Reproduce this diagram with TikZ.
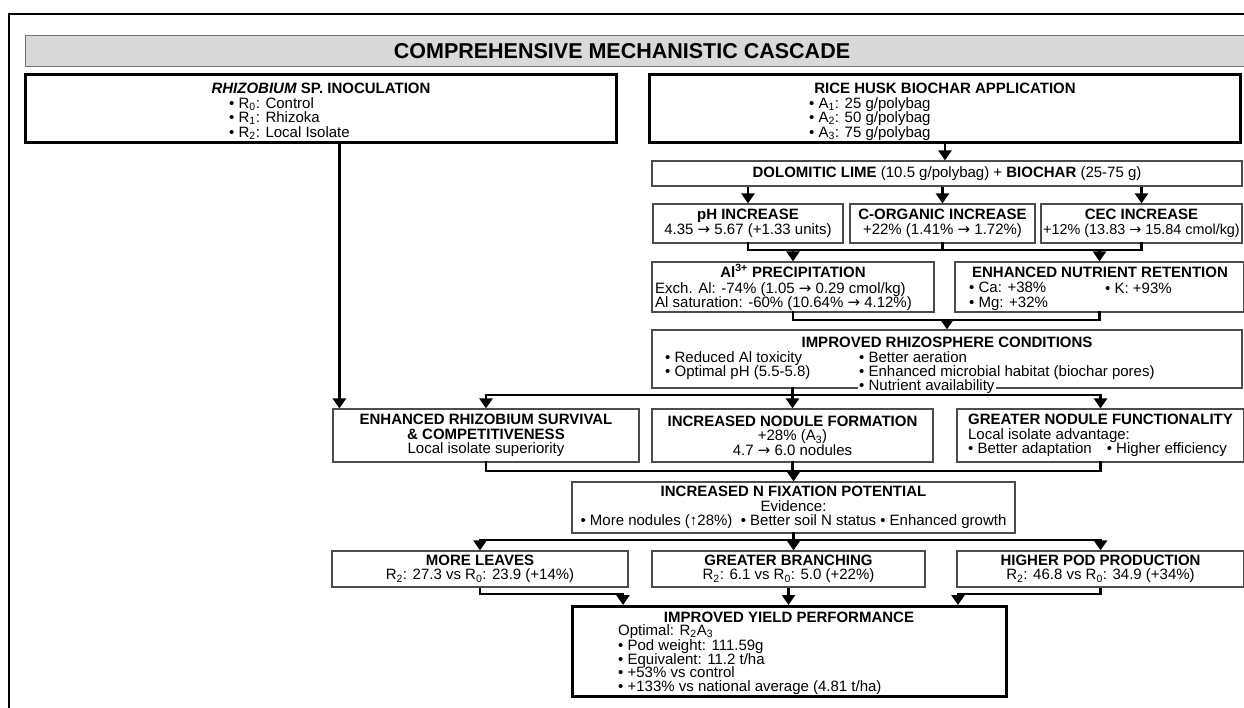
\documentclass[tikz,border=0pt]{standalone}
\usepackage{fontspec}
\setmainfont{Liberation Sans}
\newfontfamily\symfont{DejaVu Sans}
\newcommand{\toarr}{{\symfont →}}
\usetikzlibrary{arrows.meta}
\lineskiplimit=-100pt

\begin{document}
\begin{tikzpicture}[x=1pt, y=-1pt,
        txt/.style={inner sep=0pt, align=center, font=\fontsize{15}{14.5}\selectfont},
        box/.style={txt, draw=black!70, line width=1.2pt},
        bigbox/.style={draw, line width=3pt, inner sep=0pt},
        conn/.style={line width=2.6pt, line cap=rect},
        arr/.style={line width=2.6pt, -{Triangle[width=13pt, length=10pt]}}]
    \useasboundingbox (0,0) rectangle (1244,707);
    \clip (0,0) rectangle (1244,707);
    \draw[line width=2pt] (9,14) rectangle (1270,730);
    \draw[fill=black!15, draw=black!55] (25,35) rectangle (1270,66);
    \node[txt, font=\fontsize{21.5}{21.5}\selectfont\bfseries] (ttl) at (622,51) {COMPREHENSIVE MECHANISTIC CASCADE};

    % treatments
    \node[bigbox, minimum width=591pt, minimum height=68pt] (rhz) at (320.5,108.5) {};
    \node[txt, anchor=base] (rhzh) at (321,93) {\textbf{\textit{RHIZOBIUM} SP. INOCULATION}};
    \node[txt, align=left, anchor=north west] (rhzl) at (229,97) {• R\textsubscript{0}: Control\\• R\textsubscript{1}: Rhizoka\\• R\textsubscript{2}: Local Isolate};
    \node[bigbox, minimum width=591pt, minimum height=68pt] (rhb) at (945,108.5) {};
    \node[txt, anchor=base] (rhbh) at (945,93) {\textbf{RICE HUSK BIOCHAR APPLICATION}};
    \node[txt, align=left, anchor=north west] (rhbl) at (809,97) {• A\textsubscript{1}: 25 g/polybag\\• A\textsubscript{2}: 50 g/polybag\\• A\textsubscript{3}: 75 g/polybag};

    % soil changes
    \node[box, minimum width=590pt, minimum height=25pt] (dol) at (947,173.5) {\textbf{DOLOMITIC LIME} (10.5 g/polybag) + \textbf{BIOCHAR} (25-75 g)};
    \node[box, minimum width=190pt, minimum height=39pt] (ph) at (748,223.5) {\textbf{pH INCREASE}\\4.35 \toarr{} 5.67 (+1.33 units)};
    \node[box, minimum width=185pt, minimum height=39pt] (corg) at (942.5,223.5) {\textbf{C-ORGANIC INCREASE}\\+22\% (1.41\% \toarr{} 1.72\%)};
    \node[box, minimum width=201pt, minimum height=39pt] (cec) at (1141.5,223.5) {\textbf{CEC INCREASE}\\{\fontsize{14.4}{14.5}\selectfont +12\% (13.83 \toarr{} 15.84 cmol/kg)}};
    \node[box, minimum width=282pt, minimum height=50pt] (al) at (793,287) {};
    \node[txt, anchor=base] (alh) at (793,277) {\textbf{Al\textsuperscript{3+} PRECIPITATION}};
    \node[txt, align=left, anchor=north west] (all) at (655,282) {Exch. Al: -74\% (1.05 \toarr{} 0.29 cmol/kg)\\Al saturation: -60\% (10.64\% \toarr{} 4.12\%)};
    \node[box, minimum width=289pt, minimum height=50pt] (nut) at (1099.5,287) {};
    \node[txt, anchor=base] (nuth) at (1100,277) {\textbf{ENHANCED NUTRIENT RETENTION}};
    \node[txt, align=left, anchor=north west] (nutl) at (969,282) {• Ca: +38\%\\• Mg: +32\%};
    \node[txt, anchor=base west] (nutk) at (1105,293) {• K: +93\%};
    \node[box, minimum width=590pt, minimum height=58pt] (rhs) at (947,359) {};
    \node[txt, anchor=base] (rhsh) at (947,347) {\textbf{IMPROVED RHIZOSPHERE CONDITIONS}};
    \node[txt, align=left, anchor=north west] (rhsl) at (665,351) {• Reduced Al toxicity\\• Optimal pH (5.5-5.8)};
    \node[txt, align=left, anchor=north west] (rhsr) at (859,351) {• Better aeration\\• Enhanced microbial habitat (biochar pores)};
    \node[txt, anchor=base west, fill=white, inner sep=1.5pt] (rhsn) at (857.5,390) {• Nutrient availability};

    % nodulation
    \node[box, minimum width=306pt, minimum height=53pt] (enh) at (486,435.5) {\textbf{ENHANCED RHIZOBIUM SURVIVAL}\\\textbf{\& COMPETITIVENESS}\\Local isolate superiority};
    \node[box, minimum width=281pt, minimum height=53pt] (nf) at (792.5,435.5) {\textbf{INCREASED NODULE FORMATION}\\+28\% (A\textsubscript{3})\\4.7 \toarr{} 6.0 nodules};
    \node[box, align=left, minimum width=287pt, minimum height=53pt] (gnf) at (1100.5,435.5) {\textbf{GREATER NODULE FUNCTIONALITY}\\Local isolate advantage:\\• Better adaptation\quad• Higher efficiency};
    \node[box, minimum width=443pt, minimum height=51pt] (nfx) at (793.5,507.5) {\textbf{INCREASED N FIXATION POTENTIAL}\\Evidence:\\• More nodules (↑28\%)~ • Better soil N status • Enhanced growth};

    % growth and yield
    \node[box, minimum width=296pt, minimum height=36pt] (ml) at (480,569) {\textbf{MORE LEAVES}\\R\textsubscript{2}: 27.3 vs R\textsubscript{0}: 23.9 (+14\%)};
    \node[box, minimum width=273pt, minimum height=36pt] (gb) at (788.5,569) {\textbf{GREATER BRANCHING}\\R\textsubscript{2}: 6.1 vs R\textsubscript{0}: 5.0 (+22\%)};
    \node[box, minimum width=287pt, minimum height=36pt] (hpp) at (1100.5,569) {\textbf{HIGHER POD PRODUCTION}\\R\textsubscript{2}: 46.8 vs R\textsubscript{0}: 34.9 (+34\%)};
    \node[bigbox, minimum width=434pt, minimum height=90pt] (yld) at (789.5,651.5) {};
    \node[txt, anchor=base] (yldh) at (789,622) {\textbf{IMPROVED YIELD PERFORMANCE}};
    \node[txt, align=left, anchor=north west, font=\fontsize{15}{13.5}\selectfont] (yldl) at (618,624.5) {Optimal: R\textsubscript{2}A\textsubscript{3}\\[1.5pt]• Pod weight: 111.59g\\• Equivalent: 11.2 t/ha\\• +53\% vs control\\• +133\% vs national average (4.81 t/ha)};

    % connectors
    \coordinate (lv1) at (0,250);
    \coordinate (lv2) at (0,320);
    \coordinate (lv3) at (0,395);
    \coordinate (lv4) at (0,471);
    \coordinate (lv5) at (0,540);
    \coordinate (lv6) at (0,594);
    \coordinate (rin) at ([xshift=7pt]enh.north west);
    \coordinate (yin) at ([xshift=52pt]yld.north west);
    \coordinate (yout) at ([xshift=-50pt]yld.north east);
    \draw[arr] (rin |- rhz.south) -- (rin);
    \draw[arr] (rhb.south) -- (rhb.south |- dol.north);
    \draw[arr] (dol.south -| ph.north) -- (ph.north);
    \draw[arr] (dol.south -| corg.north) -- (corg.north);
    \draw[arr] (dol.south -| cec.north) -- (cec.north);
    \draw[conn] (ph.south) -- (ph.south |- lv1) -- (cec.south |- lv1) -- (cec.south);
    \draw[conn] (corg.south) -- (corg.south |- lv1);
    \draw[arr] (al.north |- lv1) -- (al.north);
    \draw[arr] (nut.north |- lv1) -- (nut.north);
    \draw[conn] (al.south) -- (al.south |- lv2) -- (nut.south |- lv2) -- (nut.south);
    \draw[arr] (rhs.north |- lv2) -- (rhs.north);
    \draw[conn] (rhs.south -| nf.north) -- (nf.north |- lv3);
    \draw[conn] (enh.north |- lv3) -- (gnf.north |- lv3);
    \draw[arr] (enh.north |- lv3) -- (enh.north);
    \draw[arr] (nf.north |- lv3) -- (nf.north);
    \draw[arr] (gnf.north |- lv3) -- (gnf.north);
    \draw[conn] (enh.south) -- (enh.south |- lv4) -- (gnf.south |- lv4) -- (gnf.south);
    \draw[conn] (nf.south) -- (nf.south |- lv4);
    \draw[arr] (nfx.north |- lv4) -- (nfx.north);
    \draw[conn] (nfx.south) -- (nfx.south |- lv5);
    \draw[conn] (ml.north |- lv5) -- (hpp.north |- lv5);
    \draw[arr] (ml.north |- lv5) -- (ml.north);
    \draw[arr] (nfx.south |- lv5) -- (nfx.south |- gb.north);
    \draw[arr] (hpp.north |- lv5) -- (hpp.north);
    \draw[arr] (ml.south) -- (ml.south |- lv6) -| (yin);
    \draw[arr] (gb.south) -- (gb.south |- yld.north);
    \draw[arr] (hpp.south) -- (hpp.south |- lv6) -| (yout);
\end{tikzpicture}
\end{document}
